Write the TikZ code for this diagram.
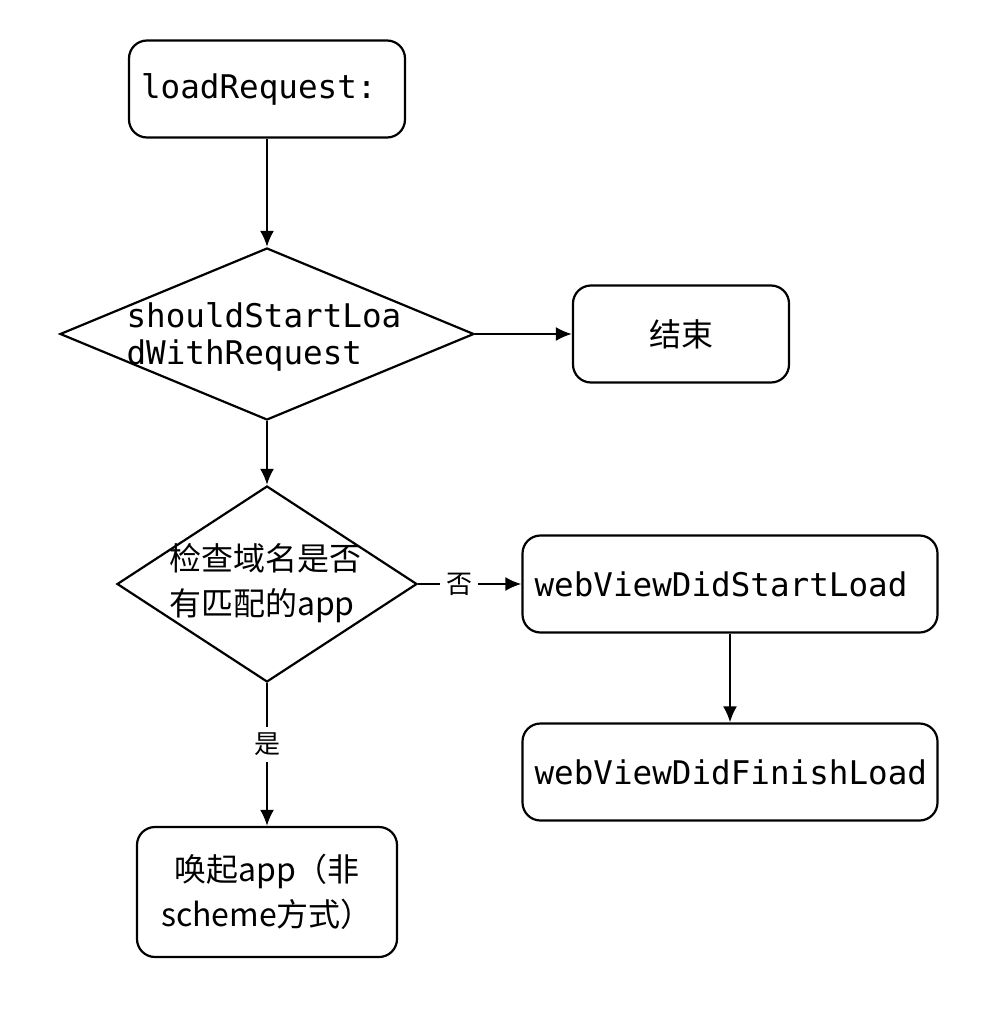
\documentclass[tikz,border=0pt]{standalone}
\usepackage{fontspec}
\setmonofont{DejaVu Sans Mono}
\newfontfamily\cjk{Noto Sans CJK SC}
\usetikzlibrary{shapes.geometric, arrows.meta}

\begin{document}
\begin{tikzpicture}[x=0.5pt, y=-0.5pt,
  monotext/.style={inner sep=0pt, align=left, font=\ttfamily\fontsize{16.3}{18.3}\selectfont},
  cjktext/.style={inner sep=0pt, align=left, font=\cjk\fontsize{16}{22.5}\selectfont},
  box/.style={draw, line width=1.1pt, rounded corners=9pt, minimum height=48.5pt, inner xsep=6pt, align=left, font=\ttfamily\fontsize{16.3}{18.3}\selectfont},
  cjkbox/.style={box, align=center, font=\cjk\fontsize{16}{22.5}\selectfont},
  decision/.style={draw, diamond, line width=1.1pt, inner sep=0pt},
  flow/.style={->, >={Latex[length=8pt, width=7pt]}, line width=1.1pt},
  choice/.style={fill=white, inner sep=3pt, font=\cjk\fontsize{13}{15}\selectfont}]

  \useasboundingbox (0,0) rectangle (1002,1022);

  % nodes
  \node[box, text width=126pt] (load) at (267,89) {loadRequest:};
  \node[decision, minimum width=207pt, minimum height=86pt] (should) at (267,334) {};
  \node[monotext] (should-text) at (264,337) {shouldStartLoa\\dWithRequest};
  \node[cjkbox, text width=96pt] (end) at (681,334) {结束};

  \node[decision, minimum width=150pt, minimum height=98pt] (check) at (267,584) {};
  \node[cjktext] (check-text) at (265,583) {检查域名是否\\有匹配的app};
  \node[box, text width=195.5pt] (start) at (730,584) {webViewDidStartLoad};
  \node[box, text width=195.5pt] (finish) at (730,772) {webViewDidFinishLoad};

  \node[cjkbox, text width=118pt, minimum height=65pt] (open) at (267,892) {唤起app（非\\scheme方式）};

  % connectors
  \draw[flow] (load) -- (should);
  \draw[flow] (should) -- (end);
  \draw[flow] (should) -- (check);
  \draw[flow] (check) -- node[choice, pos=0.4] {否} (start);
  \draw[flow] (start) -- (finish);
  \draw[flow] (check) -- node[choice, pos=0.43] {是} (open);

\end{tikzpicture}
\end{document}
